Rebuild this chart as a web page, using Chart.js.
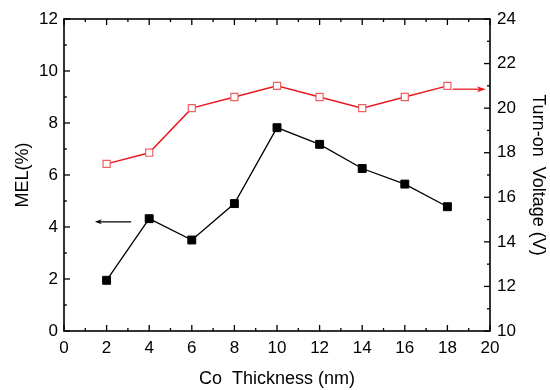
<!DOCTYPE html>
<html>
<head>
<meta charset="utf-8">
<script src="https://cdn.jsdelivr.net/npm/chart.js@4.4.0/dist/chart.umd.min.js"></script>
<style>
  body { margin: 0; background: #fff; }
  #wrap { width: 550px; height: 390px; }
</style>
</head>
<body>
<div id="wrap"><canvas id="chart" width="550" height="390"></canvas></div>
<script>
// data
const thickness = [2, 4, 6, 8, 10, 12, 14, 16, 18];
const mel = [1.95, 4.32, 3.5, 4.9, 7.82, 7.18, 6.25, 5.65, 4.78];
const turnOn = [17.5, 18, 20, 20.5, 21, 20.5, 20, 20.5, 21];

// axis ranges
const xRange = [0, 20];
const melRange = [0, 12];
const voltRange = [10, 24];

// arrows pointing to each axis (data coords)
const melArrow = { y: 4.2, from: 3.15, to: 1.45 };
const voltArrow = { y: 20.85, from: 18.25, to: 19.8 };

const FONT = "'Liberation Sans', Arial, sans-serif";
Chart.defaults.font.family = FONT;
Chart.defaults.color = "#000";

function pts(ys) {
  return thickness.map((x, i) => ({ x: x, y: ys[i] }));
}

// frame + inward ticks like the origin plot
const framePlugin = {
  id: "frame",
  afterDatasetsDraw(chart) {
    const ctx = chart.ctx;
    const a = chart.chartArea;
    const sx = chart.scales.x, sy = chart.scales.y, sy1 = chart.scales.y1;
    ctx.save();
    ctx.strokeStyle = "#000";
    ctx.lineWidth = 1.3;
    for (let v = xRange[0]; v <= xRange[1]; v++) {
      const len = v % 2 === 0 ? 6 : 3;
      const p = sx.getPixelForValue(v);
      ctx.beginPath();
      ctx.moveTo(p, a.bottom); ctx.lineTo(p, a.bottom - len);
      ctx.moveTo(p, a.top); ctx.lineTo(p, a.top + len);
      ctx.stroke();
    }
    for (let v = melRange[0]; v <= melRange[1]; v++) {
      const len = v % 2 === 0 ? 6 : 3;
      const p = sy.getPixelForValue(v);
      ctx.beginPath();
      ctx.moveTo(a.left, p); ctx.lineTo(a.left + len, p);
      ctx.stroke();
    }
    for (let v = voltRange[0]; v <= voltRange[1]; v++) {
      const len = v % 2 === 0 ? 6 : 3;
      const p = sy1.getPixelForValue(v);
      ctx.beginPath();
      ctx.moveTo(a.right, p); ctx.lineTo(a.right - len, p);
      ctx.stroke();
    }
    ctx.lineWidth = 1.6;
    ctx.strokeRect(a.left, a.top, a.right - a.left, a.bottom - a.top);

    // arrows
    function arrow(yScale, ar, color, head, half) {
      const y = yScale.getPixelForValue(ar.y);
      const x0 = sx.getPixelForValue(ar.from);
      const x1 = sx.getPixelForValue(ar.to);
      const dir = x1 > x0 ? 1 : -1;
      ctx.strokeStyle = color;
      ctx.fillStyle = color;
      ctx.lineWidth = 1.3;
      ctx.beginPath();
      ctx.moveTo(x0, y); ctx.lineTo(x1 - dir * head * 0.6, y);
      ctx.stroke();
      ctx.beginPath();
      ctx.moveTo(x1, y);
      ctx.lineTo(x1 - dir * head, y - half);
      ctx.lineTo(x1 - dir * head * 0.7, y);
      ctx.lineTo(x1 - dir * head, y + half);
      ctx.closePath();
      ctx.fill();
    }
    arrow(sy, melArrow, "#000", 7, 2.5);
    arrow(sy1, voltArrow, "#e8191f", 9, 3);
    ctx.restore();
  }
};

new Chart(document.getElementById("chart"), {
  type: "line",
  data: {
    datasets: [
      {
        label: "MEL",
        data: pts(mel),
        yAxisID: "y",
        borderColor: "#000",
        borderWidth: 1.3,
        pointStyle: "rect",
        pointRadius: 5.6,
        pointBackgroundColor: "#000",
        pointBorderColor: "#000",
        pointBorderWidth: 1,
        tension: 0
      },
      {
        label: "Turn-on Voltage",
        data: pts(turnOn),
        yAxisID: "y1",
        borderColor: "#e8191f",
        borderWidth: 1.5,
        pointStyle: "rect",
        pointRadius: 5,
        pointBackgroundColor: "#fff",
        pointBorderColor: "#f06060",
        pointBorderWidth: 1.2,
        tension: 0
      }
    ]
  },
  options: {
    responsive: false,
    animation: false,
    layout: { padding: { top: 19, left: 0, right: 0, bottom: 0 } },
    plugins: { legend: { display: false }, tooltip: { enabled: false } },
    scales: {
      x: {
        type: "linear",
        min: xRange[0], max: xRange[1],
        ticks: { stepSize: 2, padding: 7, font: { size: 17 }, maxRotation: 0 },
        grid: { display: false, drawTicks: false },
        border: { display: false },
        title: { display: true, text: "Co  Thickness (nm)", font: { size: 18 }, padding: { top: 0, bottom: 0 } },
        afterFit(s) { s.height = 59; }
      },
      y: {
        position: "left",
        min: melRange[0], max: melRange[1],
        ticks: { stepSize: 2, padding: 6, font: { size: 17 } },
        grid: { display: false, drawTicks: false },
        border: { display: false },
        title: { display: true, text: "MEL(%)", font: { size: 18 }, padding: { top: 12, bottom: 0 } },
        afterFit(s) { s.width = 64; }
      },
      y1: {
        position: "right",
        min: voltRange[0], max: voltRange[1],
        ticks: { stepSize: 2, padding: 7, font: { size: 17 } },
        grid: { display: false, drawTicks: false },
        border: { display: false },
        title: { display: true, text: "Turn-on  Voltage (V)", font: { size: 18 }, padding: { top: 1, bottom: 0 } },
        afterFit(s) { s.width = 60; }
      }
    }
  },
  plugins: [framePlugin]
});
</script>
</body>
</html>
